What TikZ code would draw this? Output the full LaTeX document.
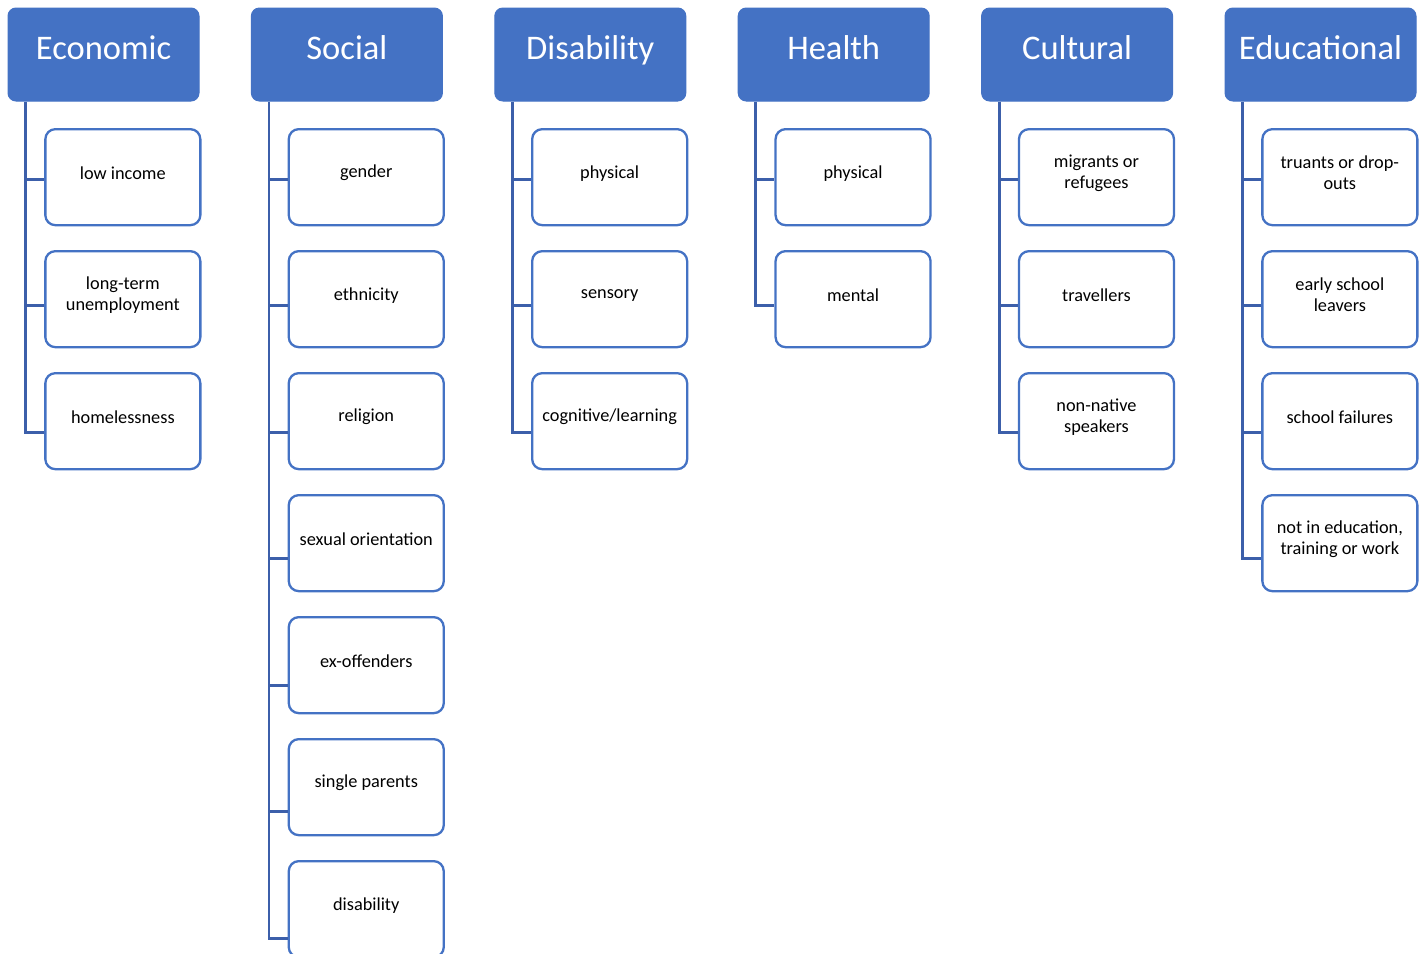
\documentclass[tikz,border=0pt]{standalone}
\usepackage{fontspec}
\setmainfont{Carlito}
\definecolor{hdr}{HTML}{4472C4}
\definecolor{conn}{HTML}{3C5FAA}
\newcommand\leaf[4]{\node[item] (#1) at (#2,#3) {}; \node[itemtext] (#1t) at ([yshift=4pt]#1.center) {#4};}
\newcommand\br[3]{\coordinate (#2b) at ([yshift=-#3pt]#2.west); \draw[link] (#1 |- #2b) -- (#2b);}
\begin{document}
\begin{tikzpicture}[x=1pt,y=-1pt,
  header/.style={fill=hdr, draw=hdr, line width=1pt, rounded corners=8pt, minimum width=191pt, minimum height=93pt, anchor=north west, text=white, font=\fontsize{34.5}{40}\selectfont, inner sep=0pt, text height=21pt, text depth=11pt},
  item/.style={draw=hdr, line width=2.3pt, fill=white, rounded corners=10pt, minimum width=155pt, minimum height=96pt, anchor=north west, inner sep=0pt},
  itemtext/.style={align=center, font=\fontsize{18.3}{21}\selectfont, inner sep=0pt, text=black},
  link/.style={draw=conn, line width=2.8pt}]
\useasboundingbox (0,0) rectangle (1424,953);
% headers
\node[header] (H1) at (7.5,7.5) {Economic};
\node[header] (H2) at (250.9,7.5) {Social};
\node[header] (H3) at (494.3,7.5) {Disability};
\node[header] (H4) at (737.7,7.5) {Health};
\node[header] (H5) at (981.1,7.5) {Cultural};
\node[header] (H6) at (1224.5,7.5) {Educational};
% trunk coordinates
\coordinate (T1) at ([xshift=18pt]H1.south west);
\coordinate (T2) at ([xshift=18pt]H2.south west);
\coordinate (T3) at ([xshift=18pt]H3.south west);
\coordinate (T4) at ([xshift=18pt]H4.south west);
\coordinate (T5) at ([xshift=18pt]H5.south west);
\coordinate (T6) at ([xshift=18pt]H6.south west);
% Economic
\leaf{e1}{44.2}{128}{low income}
\leaf{e2}{44.2}{250}{long-term\\unemployment}
\leaf{e3}{44.2}{372}{homelessness}
% Social
\leaf{s1}{287.6}{128}{gender}
\leaf{s2}{287.6}{250}{ethnicity}
\leaf{s3}{287.6}{372}{religion}
\leaf{s4}{287.6}{494}{sexual orientation}
\leaf{s5}{287.6}{616}{ex-offenders}
\leaf{s6}{287.6}{738}{single parents}
\leaf{s7}{287.6}{860}{disability}
% Disability
\leaf{d1}{531}{128}{physical}
\leaf{d2}{531}{250}{sensory}
\leaf{d3}{531}{372}{cognitive/learning}
% Health
\leaf{h1}{774.4}{128}{physical}
\leaf{h2}{774.4}{250}{mental}
% Cultural
\leaf{c1}{1017.8}{128}{migrants or\\refugees}
\leaf{c2}{1017.8}{250}{travellers}
\leaf{c3}{1017.8}{372}{non-native\\speakers}
% Educational
\leaf{u1}{1261.2}{128}{truants or drop-\\outs}
\leaf{u2}{1261.2}{250}{early school\\leavers}
\leaf{u3}{1261.2}{372}{school failures}
\leaf{u4}{1261.2}{494}{not in education,\\training or work}
% branches
\br{T1}{e1}{2}\br{T1}{e2}{6.5}\br{T1}{e3}{11}
\br{T2}{s1}{2}\br{T2}{s2}{6.5}\br{T2}{s3}{11}\br{T2}{s4}{15.5}\br{T2}{s5}{20}\br{T2}{s6}{24.5}\br{T2}{s7}{29}
\br{T3}{d1}{2}\br{T3}{d2}{6.5}\br{T3}{d3}{11}
\br{T4}{h1}{2}\br{T4}{h2}{6.5}
\br{T5}{c1}{2}\br{T5}{c2}{6.5}\br{T5}{c3}{11}
\br{T6}{u1}{2}\br{T6}{u2}{6.5}\br{T6}{u3}{11}\br{T6}{u4}{15.5}
% trunks
\draw[link] (T1) -- ([yshift=-1.4pt]T1 |- e3b);
\draw[link] (T2) -- ([yshift=-1.4pt]T2 |- s7b);
\draw[link] (T3) -- ([yshift=-1.4pt]T3 |- d3b);
\draw[link] (T4) -- ([yshift=-1.4pt]T4 |- h2b);
\draw[link] (T5) -- ([yshift=-1.4pt]T5 |- c3b);
\draw[link] (T6) -- ([yshift=-1.4pt]T6 |- u4b);
\end{tikzpicture}
\end{document}
